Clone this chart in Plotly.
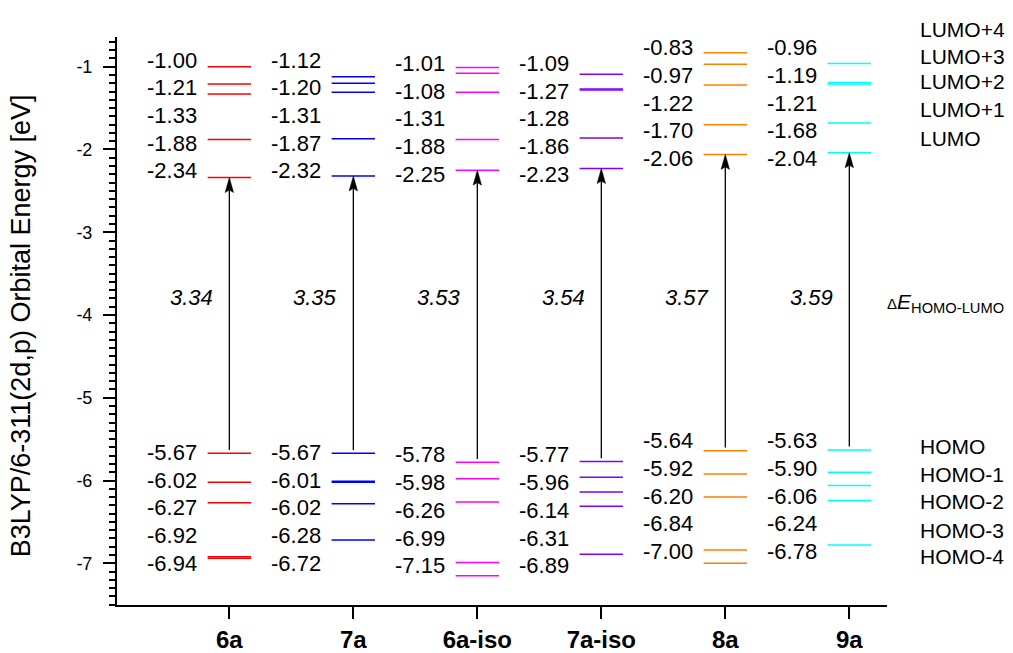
import plotly.graph_objects as go

# ---------------- data ----------------
compounds = ["6a", "7a", "6a-iso", "7a-iso", "8a", "9a"]

lumo_6a = [-1.00, -1.21, -1.33, -1.88, -2.34]
lumo_7a = [-1.12, -1.20, -1.31, -1.87, -2.32]
lumo_6a_iso = [-1.01, -1.08, -1.31, -1.88, -2.25]
lumo_7a_iso = [-1.09, -1.27, -1.28, -1.86, -2.23]
lumo_8a = [-0.83, -0.97, -1.22, -1.70, -2.06]
lumo_9a = [-0.96, -1.19, -1.21, -1.68, -2.04]

homo_6a = [-5.67, -6.02, -6.27, -6.92, -6.94]
homo_7a = [-5.67, -6.01, -6.02, -6.28, -6.72]
homo_6a_iso = [-5.78, -5.98, -6.26, -6.99, -7.15]
homo_7a_iso = [-5.77, -5.96, -6.14, -6.31, -6.89]
homo_8a = [-5.64, -5.92, -6.20, -6.84, -7.00]
homo_9a = [-5.63, -5.90, -6.06, -6.24, -6.78]

gap_values = [3.34, 3.35, 3.53, 3.54, 3.57, 3.59]

lumo_names = ["LUMO+4", "LUMO+3", "LUMO+2", "LUMO+1", "LUMO"]
homo_names = ["HOMO", "HOMO-1", "HOMO-2", "HOMO-3", "HOMO-4"]

lumo_levels = [lumo_6a, lumo_7a, lumo_6a_iso, lumo_7a_iso, lumo_8a, lumo_9a]
homo_levels = [homo_6a, homo_7a, homo_6a_iso, homo_7a_iso, homo_8a, homo_9a]

# ---------------- style / layout ----------------
colors = ["#ff0000", "#0000ff", "#ff00ff", "#8000ff", "#ff8000", "#00ffff"]
FONT = "Liberation Sans, Arial, sans-serif"
X_RANGE = [0.094, 6.304]
Y_RANGE = [-7.504, -0.641]
HALF_W = 0.175            # half width of a level line (x units)
LABEL_DX = 0.245          # right edge of value labels left of centre
LABEL_STEP = 0.335        # vertical spacing of value labels (eV)
lumo_label_top = [-0.92, -0.92, -0.96, -0.96, -0.77, -0.77]
homo_label_top = [-5.66, -5.66, -5.69, -5.69, -5.52, -5.52]
GAP_Y = -3.79
HEAD_LEN = 0.181          # arrow head length (eV)
HEAD_HALF = 0.034         # arrow head half width (x units)
HEAD_NOTCH = 0.15

xpos = list(range(1, len(compounds) + 1))


def to_paper(v):
    return (v - Y_RANGE[0]) / (Y_RANGE[1] - Y_RANGE[0])


fig = go.Figure()
annotations = []

for i, name in enumerate(compounds):
    xc = xpos[i]
    lx, ly = [], []
    for v in lumo_levels[i] + homo_levels[i]:
        lx += [xc - HALF_W, xc + HALF_W, None]
        ly += [v, v, None]
    fig.add_trace(go.Scatter(x=lx, y=ly, mode="lines",
                             line=dict(color=colors[i], width=1.5),
                             hoverinfo="skip", showlegend=False))

    lumo = lumo_levels[i][-1]
    homo = homo_levels[i][0]
    # arrow shaft
    fig.add_trace(go.Scatter(x=[xc, xc], y=[homo + 0.04, lumo - HEAD_NOTCH],
                             mode="lines", line=dict(color="black", width=1.3),
                             hoverinfo="skip", showlegend=False))
    # arrow head
    fig.add_trace(go.Scatter(
        x=[xc, xc - HEAD_HALF, xc, xc + HEAD_HALF, xc],
        y=[lumo, lumo - HEAD_LEN, lumo - HEAD_NOTCH, lumo - HEAD_LEN, lumo],
        mode="lines", fill="toself", fillcolor="black",
        line=dict(color="black", width=0.5),
        hoverinfo="skip", showlegend=False))

    # value labels
    for k, v in enumerate(lumo_levels[i]):
        annotations.append(dict(x=xc - LABEL_DX, y=lumo_label_top[i] - k * LABEL_STEP,
                                xref="x", yref="y", text=f"{v:.2f}", showarrow=False,
                                xanchor="right", yanchor="middle",
                                font=dict(family=FONT, size=22, color="black")))
    for k, v in enumerate(homo_levels[i]):
        annotations.append(dict(x=xc - LABEL_DX, y=homo_label_top[i] - k * LABEL_STEP,
                                xref="x", yref="y", text=f"{v:.2f}", showarrow=False,
                                xanchor="right", yanchor="middle",
                                font=dict(family=FONT, size=22, color="black")))
    # gap label
    annotations.append(dict(x=xc - 0.115, y=GAP_Y, xref="x", yref="y",
                            text=f"<i>{gap_values[i]:.2f}</i>", showarrow=False,
                            xanchor="right", yanchor="middle",
                            font=dict(family=FONT, size=22, color="black")))

# right-hand orbital names
lumo_name_y = [-0.545, -0.879, -1.181, -1.523, -1.865]
homo_name_y = [-5.591, -5.933, -6.256, -6.598, -6.920]
for nm, yv in zip(lumo_names + homo_names, lumo_name_y + homo_name_y):
    annotations.append(dict(x=1.0403, y=to_paper(yv), xref="paper", yref="paper",
                            text=nm, showarrow=False, xanchor="left", yanchor="middle",
                            font=dict(family=FONT, size=21, color="black")))

annotations.append(dict(x=0.998, y=to_paper(-3.857), xref="paper", yref="paper",
                        text="<span style='font-size:15px'>Δ</span><i>E</i><sub>HOMO-LUMO</sub>",
                        showarrow=False, xanchor="left", yanchor="middle",
                        font=dict(family=FONT, size=21, color="black")))

# y axis title
annotations.append(dict(x=-0.1245, y=0.491, xref="paper", yref="paper",
                        text="B3LYP/6-311(2d,p) Orbital Energy [eV]", textangle=-90,
                        showarrow=False, xanchor="center", yanchor="middle",
                        font=dict(family=FONT, size=27, color="black")))

fig.update_layout(
    width=1013, height=653,
    margin=dict(l=117, r=126, t=37, b=48, autoexpand=False),
    plot_bgcolor="white", paper_bgcolor="white",
    showlegend=False,
    annotations=annotations,
    xaxis=dict(range=X_RANGE, tickmode="array", tickvals=xpos,
               ticktext=[f"<b>{c}</b>" for c in compounds],
               automargin=False,
               showgrid=False, zeroline=False, showline=True, linecolor="black",
               linewidth=2, ticks="outside", ticklen=12, tickwidth=2, tickcolor="black",
               tickfont=dict(family=FONT, size=24, color="black")),
    yaxis=dict(range=Y_RANGE, tickmode="array", tickvals=[-1, -2, -3, -4, -5, -6, -7],
               ticktext=["-1", "-2", "-3", "-4", "-5", "-6", "-7"],
               automargin=False,
               showgrid=False, zeroline=False, showline=True, linecolor="black",
               linewidth=2, ticks="outside", ticklen=12, tickwidth=2, tickcolor="black",
               ticklabelstandoff=7,
               tickfont=dict(family=FONT, size=18, color="black"),
               minor=dict(tickmode="linear", tick0=-7, dtick=0.1, ticks="outside",
                          ticklen=6, tickwidth=1.5, tickcolor="black", showgrid=False)),
)

fig.write_html("out.html", config={"displayModeBar": False},
               post_script="document.body.style.margin='0';document.body.style.overflow='hidden';")
